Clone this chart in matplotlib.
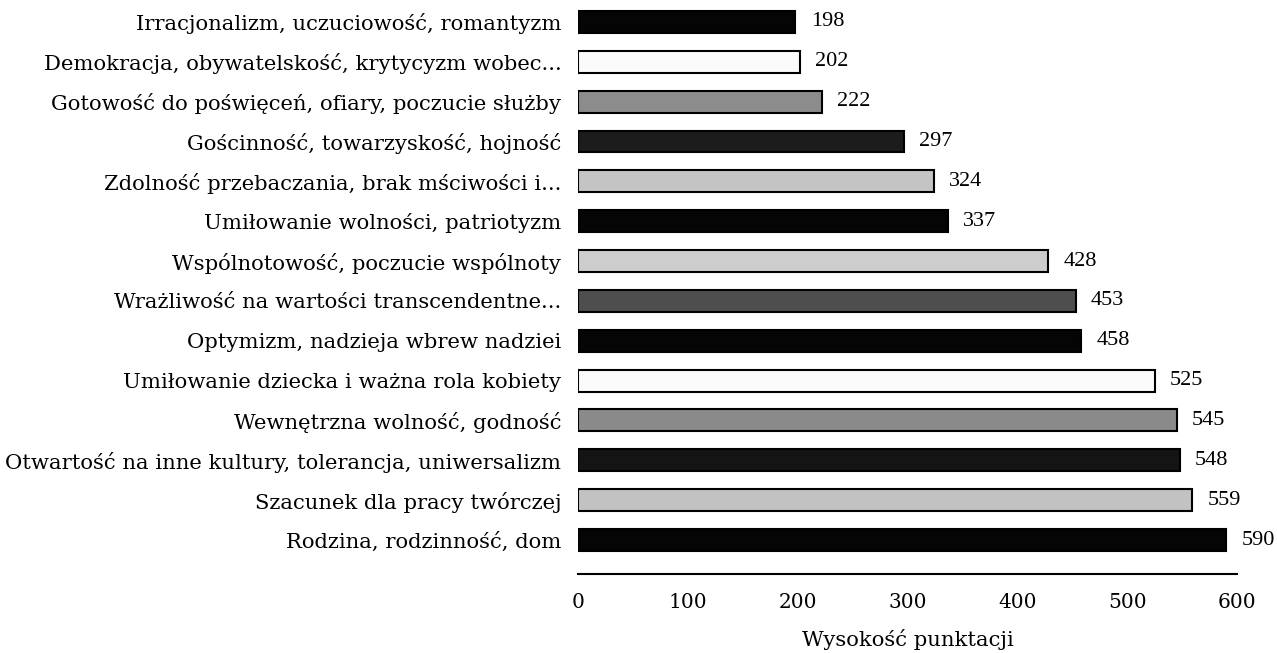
import matplotlib.pyplot as plt

# kategorie od gory do dolu
categories = [
    "Irracjonalizm, uczuciowość, romantyzm",
    "Demokracja, obywatelskość, krytycyzm wobec...",
    "Gotowość do poświęceń, ofiary, poczucie służby",
    "Gościnność, towarzyskość, hojność",
    "Zdolność przebaczania, brak mściwości i...",
    "Umiłowanie wolności, patriotyzm",
    "Wspólnotowość, poczucie wspólnoty",
    "Wrażliwość na wartości transcendentne...",
    "Optymizm, nadzieja wbrew nadziei",
    "Umiłowanie dziecka i ważna rola kobiety",
    "Wewnętrzna wolność, godność",
    "Otwartość na inne kultury, tolerancja, uniwersalizm",
    "Szacunek dla pracy twórczej",
    "Rodzina, rodzinność, dom",
]
values = [198, 202, 222, 297, 324, 337, 428, 453, 458, 525, 545, 548, 559, 590]
fills = ["#050505", "#fbfbfb", "#8c8c8c", "#1c1c1c", "#c4c4c4", "#050505", "#cdcdcd",
         "#4e4e4e", "#050505", "#fbfbfb", "#8a8a8a", "#141414", "#c2c2c2", "#050505"]
xticks = [0, 100, 200, 300, 400, 500, 600]

plt.rcParams['font.family'] = ['DejaVu Serif']

fig = plt.figure(figsize=(12.77, 6.53), dpi=100)
ax = fig.add_axes([578/1277, 1 - 574/653, (1237-578)/1277, (574-2)/653])

pos = list(range(len(values)))
ax.barh(pos, values, height=0.55, color=fills, edgecolor="black", linewidth=1.5)

for p, v in zip(pos, values):
    ax.annotate(str(v), (v, p), xytext=(11, 0), textcoords="offset points",
                va="center", ha="left", fontsize=16, family="Liberation Serif")

ax.set_yticks(pos)
ax.set_yticklabels(categories, fontsize=15.2)
ax.set_xticks(xticks)
ax.set_xticklabels([str(t) for t in xticks], fontsize=14.5)
ax.set_xlim(0, 600)
ax.set_ylim(13.853, -0.5)
ax.tick_params(axis="both", length=0)
ax.tick_params(axis="y", pad=12)
ax.tick_params(axis="x", pad=14)
for s in ["top", "right", "left"]:
    ax.spines[s].set_visible(False)
ax.spines["bottom"].set_linewidth(1.5)
ax.set_xlabel("Wysokość punktacji", fontsize=15.2, labelpad=12)

fig.savefig("out.png", dpi=100)
